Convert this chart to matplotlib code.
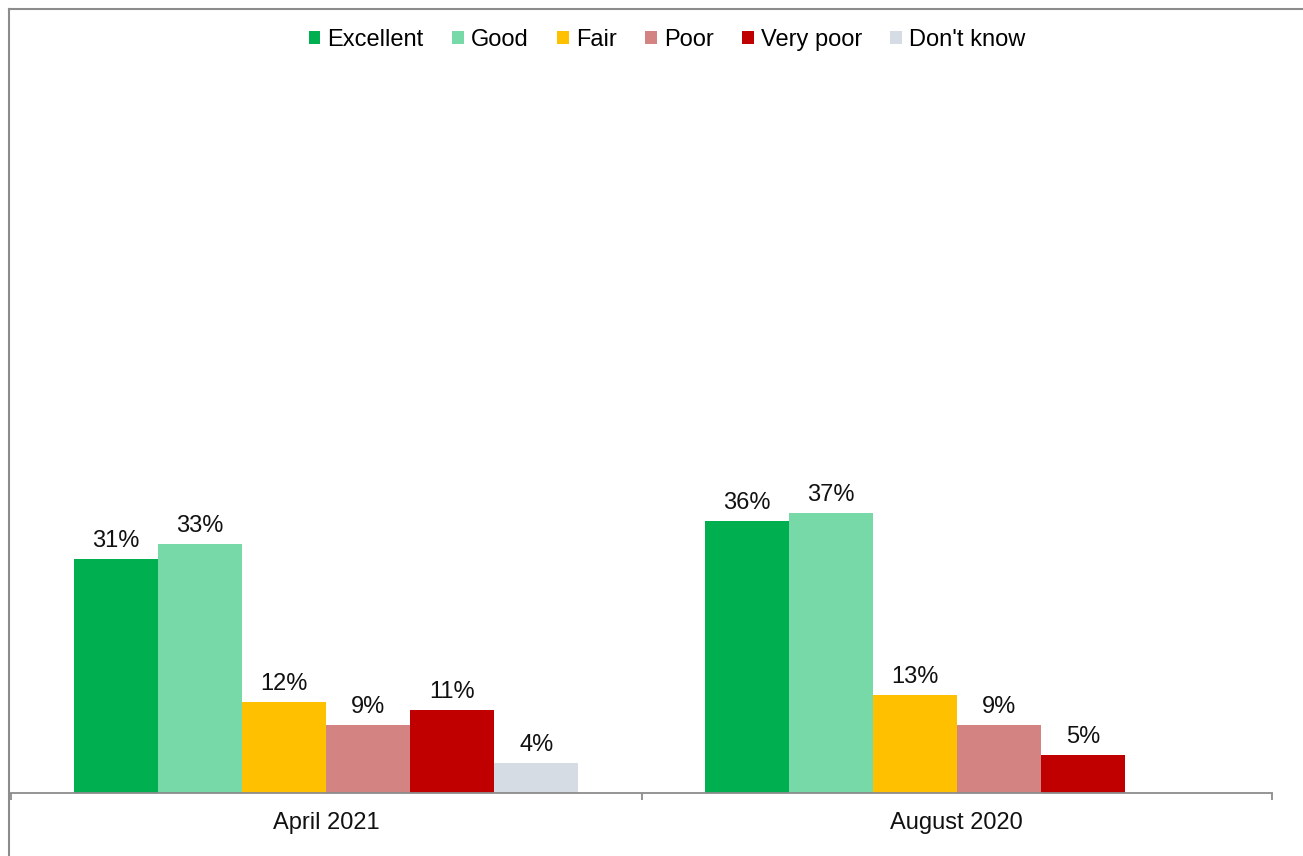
import numpy as np
import matplotlib
matplotlib.use('Agg')
import matplotlib.pyplot as plt
from matplotlib.lines import Line2D
from matplotlib.patches import Patch

plt.rcParams['font.family'] = ['Liberation Sans', 'DejaVu Sans']

# survey waves and ratings
periods = ['April 2021', 'August 2020']
ratings = ['Excellent', 'Good', 'Fair', 'Poor', 'Very poor', "Don't know"]
april_2021 = [31, 33, 12, 9, 11, 4]
august_2020 = [36, 37, 13, 9, 5, None]
colors = ['#00B050', '#77D9A8', '#FFC000', '#D48383', '#C00000', '#D6DCE4']

values = [april_2021, august_2020]

fig = plt.figure(figsize=(13.03, 8.56), dpi=100)
ax = fig.add_axes([11/1303, 1 - 793/856, (1272 - 11)/1303, (793 - 37.4)/856])

n = len(ratings)
width = 0.8 / n
x = np.arange(len(periods))

for i, (rating, col) in enumerate(zip(ratings, colors)):
    offs = (i - (n - 1) / 2) * width
    for j in range(len(periods)):
        v = values[j][i]
        if v is None:
            continue
        ax.bar(x[j] + offs, v, width=width, color=col, linewidth=0)
        ax.annotate(f'{v}%', (x[j] + offs, v), xytext=(0, 5),
                    textcoords='offset points', ha='center', va='bottom',
                    fontsize=17, color='#111111')

ax.set_xlim(-0.5, 1.5)
ax.set_ylim(0, 100)
ax.set_yticks([])
for s in ['top', 'right', 'left']:
    ax.spines[s].set_visible(False)
ax.spines['bottom'].set_color('#8C8C8C')
ax.spines['bottom'].set_linewidth(1.3)

ax.set_xticks(x)
ax.set_xticklabels(periods, fontsize=17, color='#111111')
ax.tick_params(axis='x', which='major', length=0, pad=14)
ax.set_xticks([-0.5, 0.5, 1.5], minor=True)
ax.tick_params(axis='x', which='minor', length=5, width=1.3, color='#8C8C8C', direction='out')

handles = [Patch(facecolor=c, edgecolor='none') for c in colors]
fig.legend(handles, ratings, loc='center', bbox_to_anchor=(667/1303, 1 - 40/856),
           ncol=n, frameon=False, fontsize=17, handlelength=0.5, handleheight=0.5,
           handletextpad=0.3, columnspacing=1.2, borderaxespad=0)

# outer frame (left and top edges)
fig.add_artist(Line2D([9/1303, 9/1303], [0, 1 - 9/856], transform=fig.transFigure,
                      color='#8C8C8C', linewidth=1.5))
fig.add_artist(Line2D([9/1303, 1], [1 - 9/856, 1 - 9/856], transform=fig.transFigure,
                      color='#8C8C8C', linewidth=1.5))

fig.savefig('out.png', dpi=100, facecolor='white')
